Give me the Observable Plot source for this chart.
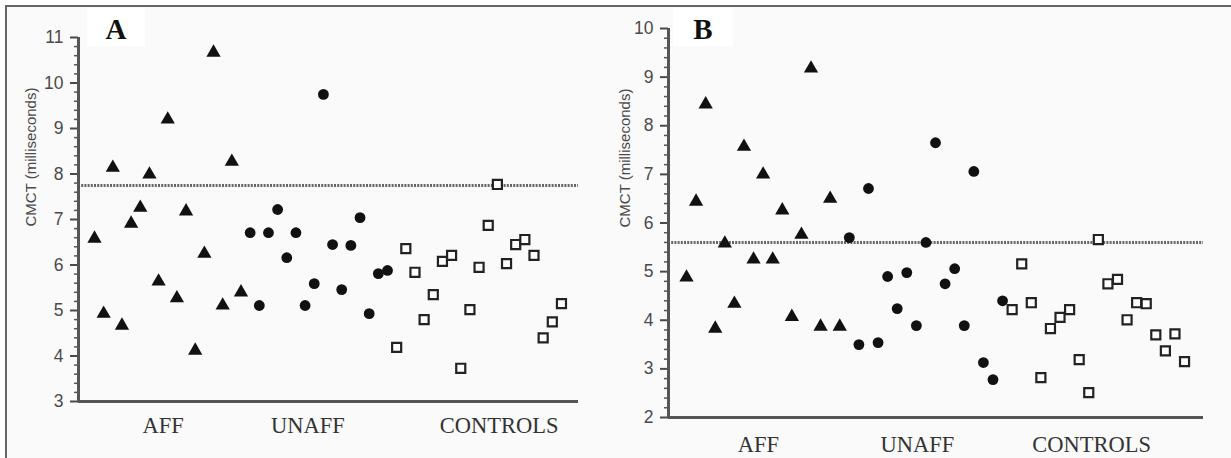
<!DOCTYPE html>
<html><head><meta charset="utf-8">
<script src="https://cdn.jsdelivr.net/npm/d3@7"></script>
<script src="https://cdn.jsdelivr.net/npm/@observablehq/plot@0.6"></script>
<style>
body{margin:0;background:#fff;}
#wrap{position:relative;width:1231px;height:458px;overflow:hidden;}
#frame{position:absolute;left:5px;top:5px;right:-5px;bottom:-5px;border-top:2px solid #666;border-left:2px solid #666;background:#fafafa;}
.tag{position:absolute;top:8px;height:38px;background:#fff;font:bold 29px "Liberation Serif",serif;text-align:center;line-height:42px;color:#111;}
.panel{position:absolute;top:0;}
</style></head>
<body><div id="wrap"><div id="frame"></div>
<div class="tag" style="left:87px;width:58px">A</div>
<div class="tag" style="left:673px;width:60px">B</div>
<div id="pa" class="panel" style="left:0px"></div>
<div id="pb" class="panel" style="left:600px"></div>
</div>
<script>
const categories = ["AFF", "UNAFF", "CONTROLS"];
const yTitle = "CMCT (milliseconds)";

// Panel A (values in ms, left-to-right order)
const affA = [6.58, 4.93, 8.14, 4.67, 6.91, 7.26, 7.99, 5.64, 9.2, 5.27, 7.18, 4.12, 6.25, 10.67, 5.11, 8.27, 5.40];
const unaffA = [6.71, 5.11, 6.71, 7.22, 6.16, 6.71, 5.11, 5.59, 9.75, 6.45, 5.46, 6.43, 7.04, 4.93, 5.81, 5.88];
const ctrlA = [4.19, 6.36, 5.84, 4.80, 5.35, 6.08, 6.21, 3.73, 5.02, 5.95, 6.87, 7.77, 6.03, 6.45, 6.56, 6.21, 4.40, 4.75, 5.15];
const cutoffA = 7.75;
const yTicksA = [3, 4, 5, 6, 7, 8, 9, 10, 11];
const labelPosA = [7.5, 23.3, 44.2];

// Panel B
const affB = [4.88, 6.44, 8.44, 3.83, 5.58, 4.34, 7.57, 5.25, 7.0, 5.25, 6.26, 4.07, 5.76, 9.18, 3.87, 6.50, 3.87];
const unaffB = [5.70, 3.50, 6.71, 3.54, 4.90, 4.24, 4.98, 3.89, 5.60, 7.65, 4.75, 5.06, 3.89, 7.06, 3.13, 2.78, 4.40];
const ctrlB = [4.22, 5.16, 4.36, 2.82, 3.83, 4.06, 4.22, 3.19, 2.51, 5.66, 4.75, 4.84, 4.01, 4.36, 4.34, 3.70, 3.37, 3.72, 3.15];
const cutoffB = 5.6;
const yTicksB = [2, 3, 4, 5, 6, 7, 8, 9, 10];
const labelPosB = [7.5, 24.1, 42.3];

function build(groups) {
  const out = [];
  let i = 0;
  groups.forEach((vals, g) => vals.forEach(v => out.push({i: i++, v, g: categories[g]})));
  return out;
}

function panel(cfg) {
  const data = build(cfg.groups);
  const y0 = cfg.yTicks[0], y1 = cfg.yTicks[cfg.yTicks.length - 1];
  const minor = d3.range(y0 * 5, y1 * 5 + 1).map(d => d / 5).filter(d => Math.abs(d - Math.round(d)) > 1e-6);
  return Plot.plot({
    width: cfg.width, height: 458,
    marginLeft: cfg.mL, marginRight: cfg.mR, marginTop: cfg.mT, marginBottom: cfg.mB,
    style: {background: "transparent", fontFamily: "'Liberation Sans', Arial, sans-serif", overflow: "visible"},
    x: {domain: cfg.xDomain, axis: null},
    y: {domain: [y0, y1]},
    marks: [
      Plot.ruleY([cfg.cutoff], {stroke: "#666", strokeWidth: 3, strokeDasharray: "2,1.2"}),
      Plot.axisY({ticks: minor, tickSize: 4, tickFormat: () => "", label: null, color: "#555", strokeWidth: 1.5}),
      Plot.axisY({ticks: cfg.yTicks, tickSize: 8, tickPadding: 7, fontSize: 17.5, label: null, color: "#4a4a4a", strokeWidth: 2}),
      Plot.ruleX([cfg.xDomain[0]], {stroke: "#555", strokeWidth: 3}),
      Plot.ruleY([y0], {stroke: "#555", strokeWidth: 3}),
      Plot.dot(data.filter(d => d.g === "AFF"), {x: "i", y: "v", symbol: "triangle", r: 5.3, fill: "#111"}),
      Plot.dot(data.filter(d => d.g === "UNAFF"), {x: "i", y: "v", symbol: "circle", r: 5.4, fill: "#111"}),
      Plot.dot(data.filter(d => d.g === "CONTROLS"), {x: "i", y: "v", symbol: "square", r: 5.1, fill: "#fff", stroke: "#222", strokeWidth: 2.2}),
      Plot.text(categories, {x: (d, k) => cfg.labelPos[k], text: d => d, frameAnchor: "bottom", dy: cfg.labelDy, lineAnchor: "middle", fontSize: 22.5, fontFamily: "'Liberation Serif', serif", fill: "#333"}),
      Plot.text([yTitle], {frameAnchor: "left", dx: cfg.titleDx, dy: cfg.titleDy, rotate: -90, fontSize: 15, fill: "#4a4a4a"})
    ]
  });
}

document.getElementById("pa").append(panel({
  groups: [affA, unaffA, ctrlA], cutoff: cutoffA, yTicks: yTicksA, labelPos: labelPosA,
  width: 600, mL: 78, mR: 22, mT: 37, mB: 57, xDomain: [-1.747, 52.86],
  labelDy: 24.5, titleDx: -47, titleDy: 7
}));
document.getElementById("pb").append(panel({
  groups: [affB, unaffB, ctrlB], cutoff: cutoffB, yTicks: yTicksB, labelPos: labelPosB,
  width: 631, mL: 68, mR: 28, mT: 28, mB: 41, xDomain: [-1.88, 53.98],
  labelDy: 27.5, titleDx: -43, titleDy: 4.5
}));
</script>
</body></html>
